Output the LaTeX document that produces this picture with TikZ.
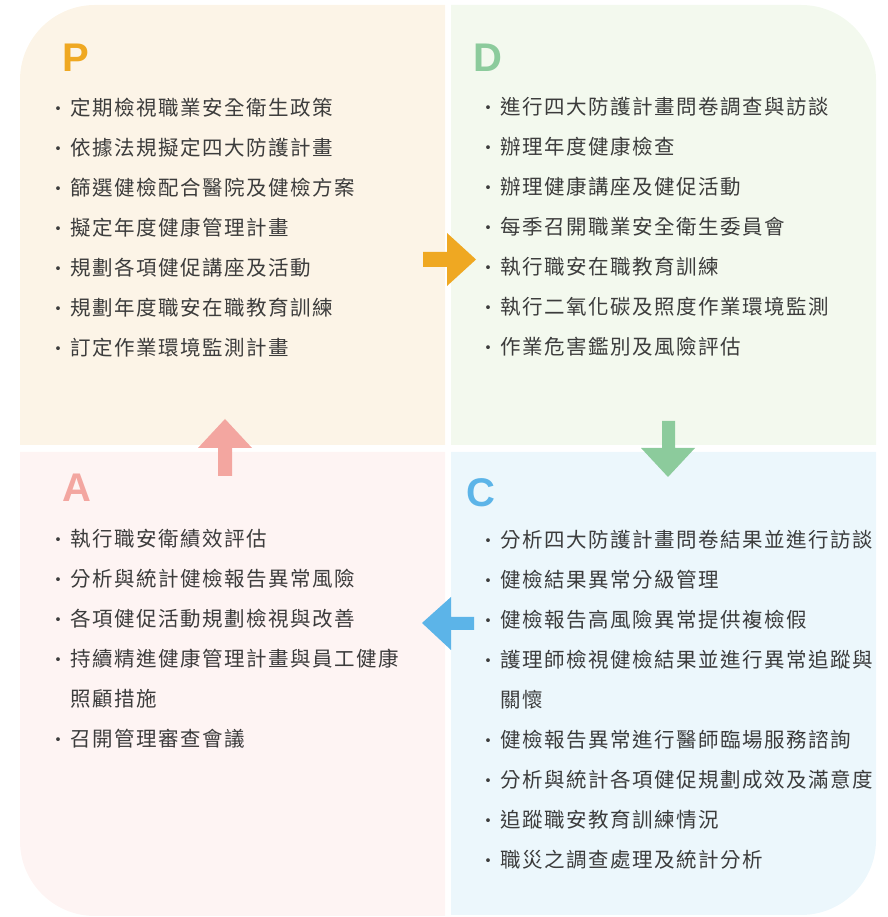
\documentclass[tikz,border=0pt]{standalone}
\usepackage{fontspec}
\setmainfont{Noto Sans CJK TC}
\newfontfamily\cjkitem{Noto Sans CJK TC}[LetterSpace=7.5]
\newfontfamily\latinbold{Liberation Sans}
\definecolor{bgP}{HTML}{FCF4E7}
\definecolor{bgD}{HTML}{F3F9EE}
\definecolor{bgA}{HTML}{FEF4F3}
\definecolor{bgC}{HTML}{ECF7FC}
\definecolor{colP}{HTML}{EFA822}
\definecolor{colD}{HTML}{8CCB9C}
\definecolor{colA}{HTML}{F3A6A0}
\definecolor{colC}{HTML}{5CB4E8}
\definecolor{txt}{HTML}{3C3C3C}
\begin{document}
\begin{tikzpicture}[x=1pt,y=1pt,
  itemtext/.style={anchor=west,inner sep=0pt,font=\cjkitem\fontsize{20.5}{20.5}\selectfont,text=txt},
  bulletdot/.style={inner sep=0pt,font=\fontsize{18}{18}\selectfont,text=txt},
  letter/.style={inner sep=0pt,font=\latinbold\bfseries\fontsize{40}{40}\selectfont}]
\useasboundingbox (0,0) rectangle (887,917);
% quadrants
\fill[bgP] (445,472) -- (20,472) -- (20,837) arc[start angle=180,end angle=90,radius=75pt] -- (445,912) -- cycle;
\fill[bgD] (451,472) -- (451,912) -- (801,912) arc[start angle=90,end angle=0,radius=75pt] -- (876,472) -- cycle;
\fill[bgA] (445,465) -- (20,465) -- (20,76) arc[start angle=180,end angle=270,radius=75pt] -- (445,1) -- cycle;
\fill[bgC] (451,465) -- (876,465) -- (876,77) arc[start angle=0,end angle=-90,radius=75pt] -- (451,2) -- cycle;
% arrows
\fill[colP] (423,650) -- (447,650) -- (447,631) -- (476,657.5) -- (447,684) -- (447,665) -- (423,665) -- cycle;
\fill[colD] (662,496) -- (675,496) -- (675,469) -- (695,469) -- (668,440) -- (641,469) -- (662,469) -- cycle;
\fill[colC] (474,300) -- (451,300) -- (451,320) -- (422,294) -- (451,267) -- (451,287) -- (474,287) -- cycle;
\fill[colA] (218,441) -- (232,441) -- (232,469) -- (252,469) -- (225,498) -- (198,469) -- (218,469) -- cycle;
% letters
\node[letter,text=colP] (LP) at (76,859.5) {P};
\node[letter,text=colD] (LD) at (488,859.5) {D};
\node[letter,text=colA] (LA) at (77,429) {A};
\node[letter,text=colC] (LC) at (481,424) {C};
% P items
\foreach \b/\t [count=\i] in {1/定期檢視職業安全衛生政策,1/依據法規擬定四大防護計畫,1/篩選健檢配合醫院及健檢方案,1/擬定年度健康管理計畫,1/規劃各項健促講座及活動,1/規劃年度職安在職教育訓練,1/訂定作業環境監測計畫}{
  \node[itemtext] (p\i) at (70,849-40*\i) {\t};
  \ifnum\b=1 \node[bulletdot] (pb\i) at (58,846-40*\i) {·};\fi
}
% D items
\foreach \b/\t [count=\i] in {1/進行四大防護計畫問卷調查與訪談,1/辦理年度健康檢查,1/辦理健康講座及健促活動,1/每季召開職業安全衛生委員會,1/執行職安在職教育訓練,1/執行二氧化碳及照度作業環境監測,1/作業危害鑑別及風險評估}{
  \node[itemtext] (d\i) at (500,850-40*\i) {\t};
  \ifnum\b=1 \node[bulletdot] (db\i) at (488,847-40*\i) {·};\fi
}
% A items
\foreach \b/\t [count=\i] in {1/執行職安衛績效評估,1/分析與統計健檢報告異常風險,1/各項健促活動規劃檢視與改善,1/持續精進健康管理計畫與員工健康,0/照顧措施,1/召開管理審查會議}{
  \node[itemtext] (a\i) at (70,418-40*\i) {\t};
  \ifnum\b=1 \node[bulletdot] (ab\i) at (58,415-40*\i) {·};\fi
}
% C items
\foreach \b/\t [count=\i] in {1/分析四大防護計畫問卷結果並進行訪談,1/健檢結果異常分級管理,1/健檢報告高風險異常提供複檢假,1/護理師檢視健檢結果並進行異常追蹤與,0/關懷,1/健檢報告異常進行醫師臨場服務諮詢,1/分析與統計各項健促規劃成效及滿意度,1/追蹤職安教育訓練情況,1/職災之調查處理及統計分析}{
  \node[itemtext] (c\i) at (500,417-40*\i) {\t};
  \ifnum\b=1 \node[bulletdot] (cb\i) at (488,414-40*\i) {·};\fi
}
\end{tikzpicture}
\end{document}
